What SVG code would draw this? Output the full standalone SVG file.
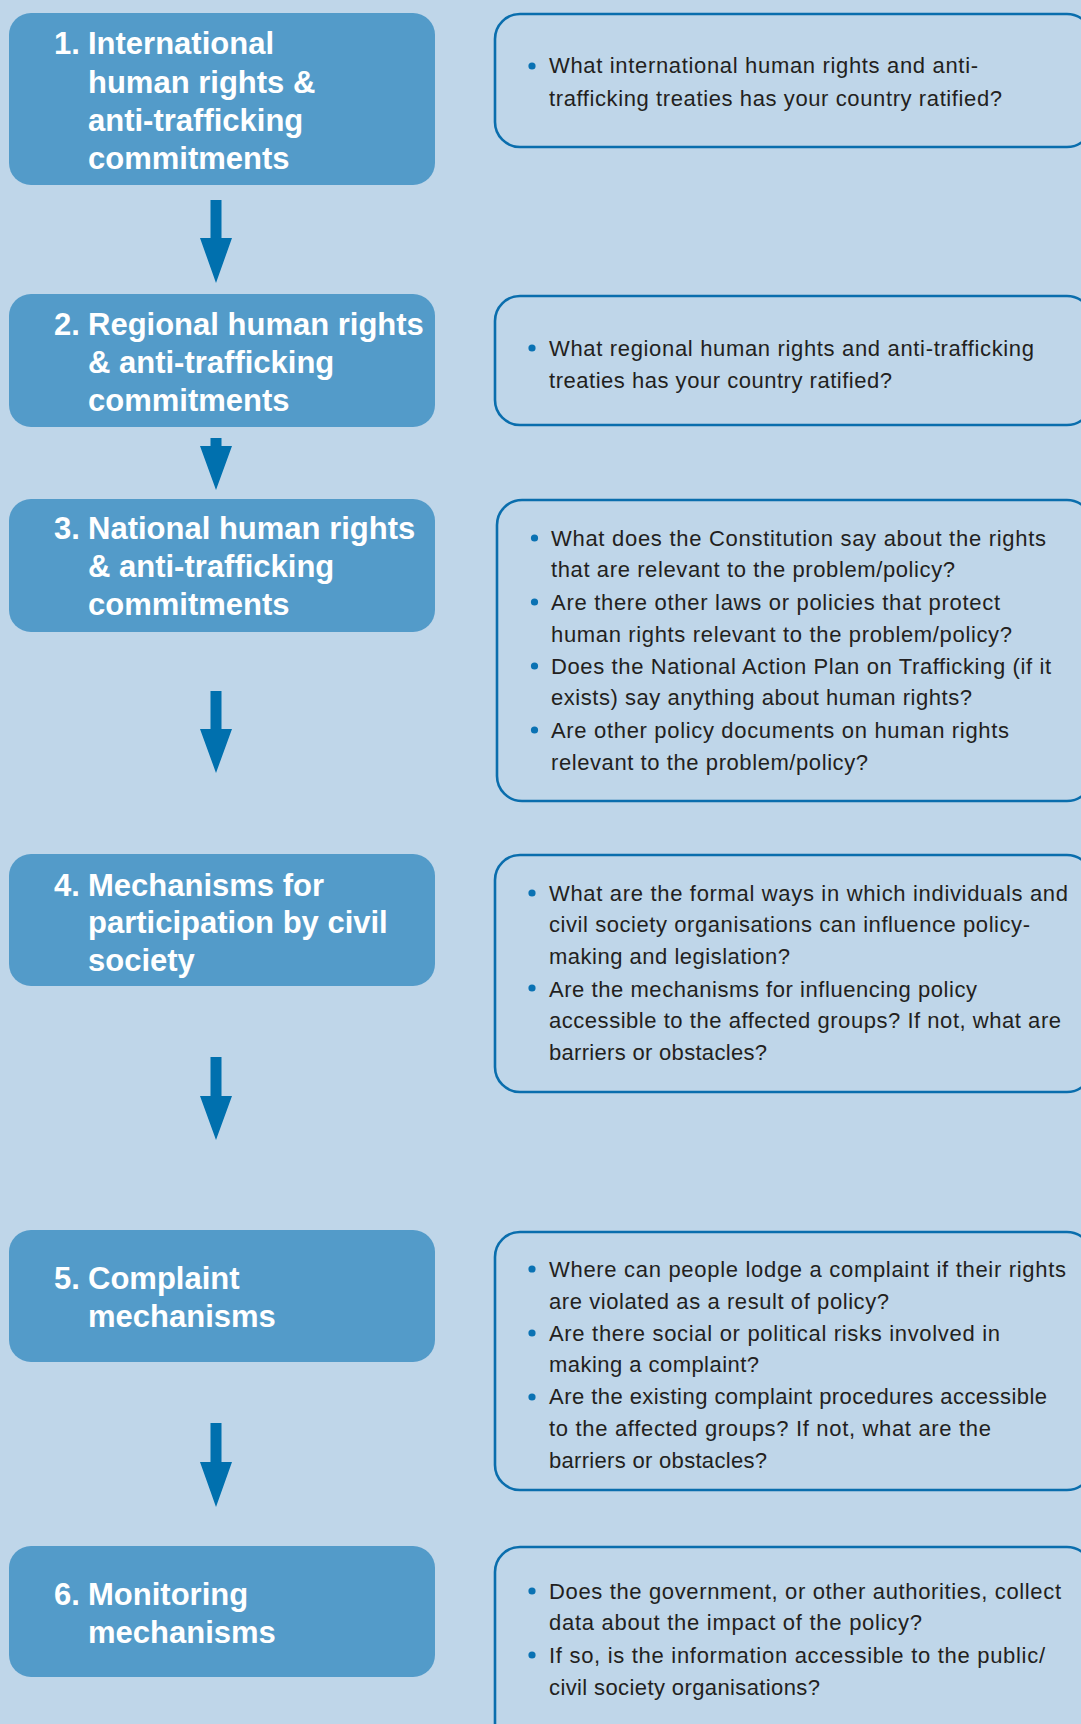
<svg xmlns="http://www.w3.org/2000/svg" width="1081" height="1724" viewBox="0 0 1081 1724">
<style>
.bg{fill:#BFD6E9}
.step{fill:#539BC9}
.title{font-family:"Liberation Sans",Arial,sans-serif;font-weight:bold;font-size:31px;fill:#FFFFFF}
.qbox{fill:none;stroke:#0A6EAD;stroke-width:2.6}
.q{font-family:"Liberation Sans",Arial,sans-serif;font-size:22px;fill:#231F20}
.dot{fill:#0A72B3}
.arrow{fill:#0070AE}
</style>
<rect class="bg" x="0" y="0" width="1081" height="1724"/>

<g id="connectors">
<polygon class="arrow" points="210.5,200 221.5,200 221.5,238 232,238 216,283 200,238 210.5,238"/>
<polygon class="arrow" points="210.5,438 221.5,438 221.5,446 232,446 216,490 200,446 210.5,446"/>
<polygon class="arrow" points="210.5,691 221.5,691 221.5,729 232,729 216,773 200,729 210.5,729"/>
<polygon class="arrow" points="210.5,1057 221.5,1057 221.5,1096 232,1096 216,1140 200,1096 210.5,1096"/>
<polygon class="arrow" points="210.5,1423 221.5,1423 221.5,1462 232,1462 216,1507 200,1462 210.5,1462"/>
</g>

<g id="step1">
<rect class="step" x="9" y="13" width="426" height="172" rx="22"/>
<text class="title"><tspan x="54" y="54">1.</tspan><tspan x="88" y="54">International</tspan><tspan x="88" y="93">human rights &amp;</tspan><tspan x="88" y="131">anti-trafficking</tspan><tspan x="88" y="169">commitments</tspan></text>
</g>
<g id="questions1">
<rect class="qbox" x="495" y="14" width="597" height="133" rx="25"/>
<circle class="dot" cx="532" cy="66" r="3.6"/>
<text class="q" x="549" y="73" textLength="429" lengthAdjust="spacing">What international human rights and anti-</text>
<text class="q" x="549" y="106" textLength="453" lengthAdjust="spacing">trafficking treaties has your country ratified?</text>
</g>

<g id="step2">
<rect class="step" x="9" y="294" width="426" height="133" rx="22"/>
<text class="title"><tspan x="54" y="335">2.</tspan><tspan x="88" y="335">Regional human rights</tspan><tspan x="88" y="373">&amp; anti-trafficking</tspan><tspan x="88" y="411">commitments</tspan></text>
</g>
<g id="questions2">
<rect class="qbox" x="495" y="296" width="597" height="129" rx="25"/>
<circle class="dot" cx="532" cy="348" r="3.6"/>
<text class="q" x="549" y="356" textLength="485" lengthAdjust="spacing">What regional human rights and anti-trafficking</text>
<text class="q" x="549" y="388" textLength="343" lengthAdjust="spacing">treaties has your country ratified?</text>
</g>

<g id="step3">
<rect class="step" x="9" y="499" width="426" height="133" rx="22"/>
<text class="title"><tspan x="54" y="539">3.</tspan><tspan x="88" y="539">National human rights</tspan><tspan x="88" y="577">&amp; anti-trafficking</tspan><tspan x="88" y="615">commitments</tspan></text>
</g>
<g id="questions3">
<rect class="qbox" x="497" y="500" width="595" height="301" rx="25"/>
<circle class="dot" cx="534.5" cy="538" r="3.6"/>
<circle class="dot" cx="534.5" cy="602" r="3.6"/>
<circle class="dot" cx="534.5" cy="666" r="3.6"/>
<circle class="dot" cx="534.5" cy="730" r="3.6"/>
<text class="q" x="551" y="546" textLength="495" lengthAdjust="spacing">What does the Constitution say about the rights</text>
<text class="q" x="551" y="577" textLength="404" lengthAdjust="spacing">that are relevant to the problem/policy?</text>
<text class="q" x="551" y="610" textLength="449" lengthAdjust="spacing">Are there other laws or policies that protect</text>
<text class="q" x="551" y="642" textLength="461" lengthAdjust="spacing">human rights relevant to the problem/policy?</text>
<text class="q" x="551" y="674" textLength="500" lengthAdjust="spacing">Does the National Action Plan on Trafficking (if it</text>
<text class="q" x="551" y="705" textLength="421" lengthAdjust="spacing">exists) say anything about human rights?</text>
<text class="q" x="551" y="738" textLength="458" lengthAdjust="spacing">Are other policy documents on human rights</text>
<text class="q" x="551" y="770" textLength="317" lengthAdjust="spacing">relevant to the problem/policy?</text>
</g>

<g id="step4">
<rect class="step" x="9" y="854" width="426" height="132" rx="22"/>
<text class="title"><tspan x="54" y="896">4.</tspan><tspan x="88" y="896">Mechanisms for</tspan><tspan x="88" y="933">participation by civil</tspan><tspan x="88" y="971">society</tspan></text>
</g>
<g id="questions4">
<rect class="qbox" x="495" y="855" width="597" height="237" rx="25"/>
<circle class="dot" cx="532" cy="893" r="3.6"/>
<circle class="dot" cx="532" cy="988" r="3.6"/>
<text class="q" x="549" y="901" textLength="519" lengthAdjust="spacing">What are the formal ways in which individuals and</text>
<text class="q" x="549" y="932" textLength="481" lengthAdjust="spacing">civil society organisations can influence policy-</text>
<text class="q" x="549" y="964" textLength="241" lengthAdjust="spacing">making and legislation?</text>
<text class="q" x="549" y="997" textLength="428" lengthAdjust="spacing">Are the mechanisms for influencing policy</text>
<text class="q" x="549" y="1028" textLength="512" lengthAdjust="spacing">accessible to the affected groups? If not, what are</text>
<text class="q" x="549" y="1060" textLength="218" lengthAdjust="spacing">barriers or obstacles?</text>
</g>

<g id="step5">
<rect class="step" x="9" y="1230" width="426" height="132" rx="22"/>
<text class="title"><tspan x="54" y="1289">5.</tspan><tspan x="88" y="1289">Complaint</tspan><tspan x="88" y="1327">mechanisms</tspan></text>
</g>
<g id="questions5">
<rect class="qbox" x="495" y="1232" width="597" height="258" rx="25"/>
<circle class="dot" cx="532" cy="1269" r="3.6"/>
<circle class="dot" cx="532" cy="1333" r="3.6"/>
<circle class="dot" cx="532" cy="1397" r="3.6"/>
<text class="q" x="549" y="1277" textLength="517" lengthAdjust="spacing">Where can people lodge a complaint if their rights</text>
<text class="q" x="549" y="1309" textLength="340" lengthAdjust="spacing">are violated as a result of policy?</text>
<text class="q" x="549" y="1341" textLength="451" lengthAdjust="spacing">Are there social or political risks involved in</text>
<text class="q" x="549" y="1372" textLength="210" lengthAdjust="spacing">making a complaint?</text>
<text class="q" x="549" y="1404" textLength="498" lengthAdjust="spacing">Are the existing complaint procedures accessible</text>
<text class="q" x="549" y="1436" textLength="442" lengthAdjust="spacing">to the affected groups? If not, what are the</text>
<text class="q" x="549" y="1468" textLength="218" lengthAdjust="spacing">barriers or obstacles?</text>
</g>

<g id="step6">
<rect class="step" x="9" y="1546" width="426" height="131" rx="22"/>
<text class="title"><tspan x="54" y="1605">6.</tspan><tspan x="88" y="1605">Monitoring</tspan><tspan x="88" y="1643">mechanisms</tspan></text>
</g>
<g id="questions6">
<rect class="qbox" x="495" y="1547" width="597" height="220" rx="25"/>
<circle class="dot" cx="532" cy="1591" r="3.6"/>
<circle class="dot" cx="532" cy="1655" r="3.6"/>
<text class="q" x="549" y="1599" textLength="512" lengthAdjust="spacing">Does the government, or other authorities, collect</text>
<text class="q" x="549" y="1630" textLength="373" lengthAdjust="spacing">data about the impact of the policy?</text>
<text class="q" x="549" y="1663" textLength="496" lengthAdjust="spacing">If so, is the information accessible to the public/</text>
<text class="q" x="549" y="1695" textLength="271" lengthAdjust="spacing">civil society organisations?</text>
</g>
</svg>
